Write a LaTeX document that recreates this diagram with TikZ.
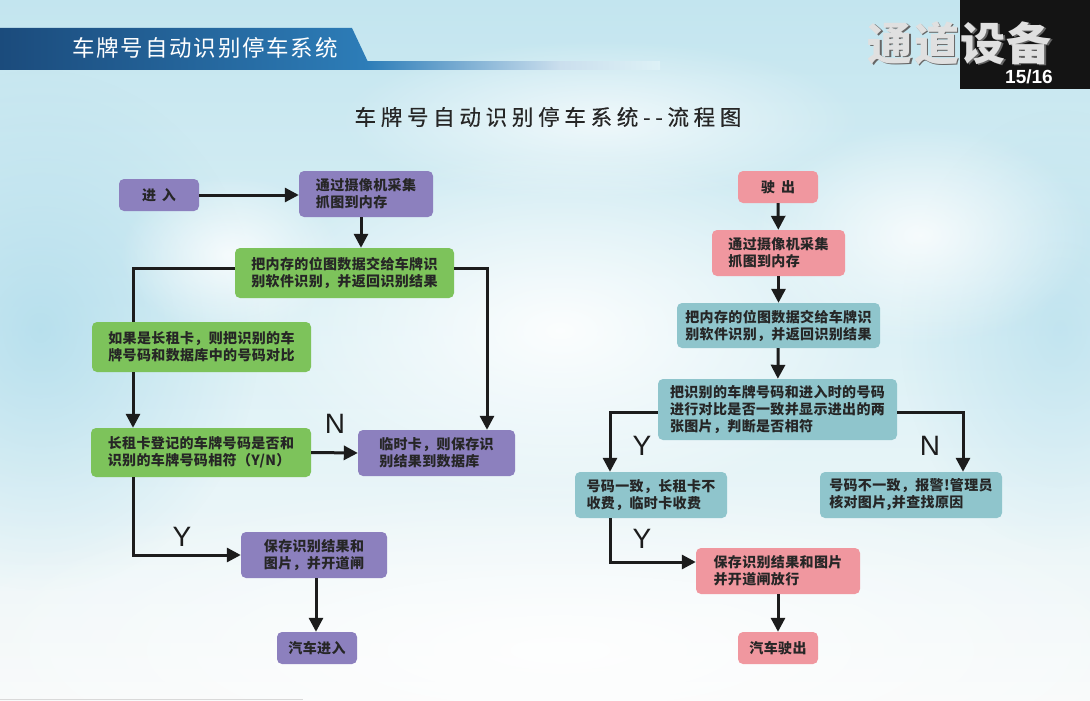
\documentclass[tikz,border=0pt]{standalone}
\usepackage{fontspec}
\setmainfont{Noto Sans CJK SC}
\newfontfamily\bxf{Noto Sans CJK SC}[LetterSpace=2.5]
\newfontfamily\ttlf{Noto Sans CJK SC}[LetterSpace=22,FakeBold=0.4]
\newfontfamily\bnf{Noto Sans CJK SC}[LetterSpace=8]
\newfontfamily\logof{Noto Sans CJK SC}[LetterSpace=3]
\newfontfamily\latf{Liberation Sans}
\usetikzlibrary{arrows.meta,fadings,shadings}
\definecolor{cpur}{HTML}{8C80BE}
\definecolor{cgrn}{HTML}{7DC35B}
\definecolor{cpnk}{HTML}{F0979F}
\definecolor{ctea}{HTML}{8FC5CC}
\definecolor{ctxt}{HTML}{262626}
\definecolor{carr}{HTML}{1C1C1C}
\definecolor{bgtop}{HTML}{C3E5EF}
\definecolor{bgmid}{HTML}{DDF1F6}
\definecolor{bgbot}{HTML}{F8FAFA}
\definecolor{bgcy}{HTML}{A9D9EA}
\definecolor{bandL}{HTML}{1B4B7C}
\definecolor{bandR}{HTML}{2D7DB8}
\tikzfading[name=softglow, inner color=transparent!0, outer color=transparent!100]
\begin{document}
\begin{tikzpicture}[x=1pt,y=-1pt,
  box/.style={rounded corners=5pt, inner sep=0pt, align=left, text=ctxt,
    font=\bxf\bfseries\fontsize{14}{17}\selectfont},
  pbox/.style={box, fill=cpur},
  gbox/.style={box, fill=cgrn},
  kbox/.style={box, fill=cpnk},
  tbox/.style={box, fill=ctea},
  ln/.style={line width=3pt, draw=carr},
  arr/.style={ln, -{Triangle[length=14pt,width=14pt]}},
  glow/.style={path fading=softglow},
  yn/.style={font=\latf\fontsize{28}{28}\selectfont, text=carr, inner sep=0pt}]
\useasboundingbox (0,0) rectangle (1090,701);
% background
\shade[top color=bgtop, bottom color=bgbot, middle color=bgmid] (0,0) rectangle (1090,701);
\fill[bgcy, glow, opacity=0.7] (40,330) ellipse (220 and 260);
\fill[bgcy, glow, opacity=0.5] (1060,330) ellipse (160 and 220);
\fill[white, glow, opacity=0.9] (560,330) ellipse (320 and 180);
\fill[white, glow, opacity=0.8] (230,255) ellipse (110 and 80);
\fill[white, glow, opacity=0.8] (920,235) ellipse (170 and 110);
\fill[white, glow, opacity=0.9] (560,650) ellipse (650 and 170);
\fill[white, glow, opacity=0.7] (600,120) ellipse (260 and 80);
\draw[line width=1.5pt, draw=black!15] (0,699.5) -- (303,699.5);
% header band
\shade[left color=bandL, right color=bandR] (0,28) -- (352,28) -- (368,62) -- (368,70) -- (0,70) -- cycle;
\shade[left color=bandR, right color=bandR!25!white] (367,62) rectangle (560,70);
\shade[left color=bandR!25!white, right color=bgmid] (559.5,62) rectangle (660,70);
\node[font=\bnf\fontsize{22.5}{22.5}\selectfont, text=white, inner sep=0pt] (band) at (205,48) {车牌号自动识别停车系统};
% logo
\fill[black!92] (960,0) rectangle (1090,89);
\node[font=\logof\bfseries\fontsize{45}{45}\selectfont, text=black!60, inner sep=0pt] (logosh) at (961.5,44.5) {通道设备};
\node[font=\logof\bfseries\fontsize{45}{45}\selectfont, text=black!12, inner sep=0pt] (logo) at (960,43) {通道设备};
\node[font=\latf\bfseries\fontsize{19}{19}\selectfont, text=white, inner sep=0pt] (page) at (1029,77) {15/16};
% title
\node[font=\ttlf\fontsize{21.5}{21.5}\selectfont, text=ctxt, inner sep=0pt] (title) at (548,117) {车牌号自动识别停车系统--流程图};
% helper coordinates
\coordinate (x133) at (133,0);
\coordinate (x361) at (361,0);
\coordinate (x487) at (487,0);
\coordinate (x316) at (316,0);
\coordinate (x610) at (610,0);
\coordinate (x963) at (963,0);
% left flow
\node[pbox, minimum width=80pt, minimum height=32pt] (in) at (159,195) {进\hspace{6pt}入};
\node[pbox, minimum width=134pt, minimum height=46pt] (cap1) at (366,194) {通过摄像机采集\\抓图到内存};
\node[gbox, minimum width=219pt, minimum height=50pt] (rec1) at (344.5,273) {把内存的位图数据交给车牌识\\别软件识别，并返回识别结果};
\node[gbox, minimum width=219pt, minimum height=50pt] (cmp1) at (201.5,347) {如果是长租卡，则把识别的车\\牌号码和数据库中的号码对比};
\node[gbox, minimum width=220pt, minimum height=49pt] (chk1) at (201,452.5) {长租卡登记的车牌号码是否和\\识别的车牌号码相符（Y/N）};
\node[pbox, minimum width=157pt, minimum height=46pt] (tmp1) at (436.5,453) {临时卡，则保存识\\别结果到数据库};
\node[pbox, minimum width=146pt, minimum height=46pt] (sav1) at (314,555) {保存识别结果和\\图片，并开道闸};
\node[pbox, minimum width=80pt, minimum height=32pt] (car1) at (317,648) {汽车进入};
\draw[arr] (in) -- (cap1.west |- in);
\draw[arr] (cap1.south -| x361) -- (rec1.north -| x361);
\draw[ln] ([yshift=5pt]rec1.west) -| (x133 |- cmp1.north);
\draw[arr] ([yshift=5pt]rec1.east) -| (x487 |- tmp1.north);
\draw[arr] (cmp1.south -| x133) -- (chk1.north -| x133);
\draw[arr] (chk1.east) -- (tmp1.west);
\draw[arr] (chk1.south -| x133) |- (sav1.west);
\draw[arr] (sav1.south -| x316) -- (car1.north -| x316);
\node[yn] (n1) at (335,424) {N};
\node[yn] (y1) at (182,537) {Y};
% right flow
\node[kbox, minimum width=80pt, minimum height=32pt] (out) at (778,187) {驶\hspace{6pt}出};
\node[kbox, minimum width=133pt, minimum height=46pt] (cap2) at (778.5,253) {通过摄像机采集\\抓图到内存};
\node[tbox, minimum width=203pt, minimum height=45pt] (rec2) at (778.5,325.5) {把内存的位图数据交给车牌识\\别软件识别，并返回识别结果};
\node[tbox, minimum width=239pt, minimum height=61pt] (cmp2) at (777.5,409.5) {把识别的车牌号码和进入时的号码\\进行对比是否一致并显示进出的两\\张图片，判断是否相符};
\node[tbox, minimum width=152pt, minimum height=46pt] (ok2) at (651,495) {号码一致，长租卡不\\收费，临时卡收费};
\node[tbox, minimum width=182pt, minimum height=46pt] (bad2) at (911,495) {号码不一致，报警!管理员\\核对图片,并查找原因};
\node[kbox, minimum width=164pt, minimum height=46pt] (sav2) at (778,571) {保存识别结果和图片\\并开道闸放行};
\node[kbox, minimum width=80pt, minimum height=32pt] (car2) at (778,648) {汽车驶出};
\draw[arr] (out) -- (cap2);
\draw[arr] (cap2) -- (rec2);
\draw[arr] (rec2) -- (cmp2);
\draw[arr] ([yshift=-3pt]cmp2.west) -| (x610 |- ok2.north);
\draw[arr] ([yshift=-3pt]cmp2.east) -| (x963 |- bad2.north);
\draw[arr] (ok2.south -| x610) |- ([yshift=9pt]sav2.west);
\draw[arr] (sav2) -- (car2);
\node[yn] (y2) at (642,446) {Y};
\node[yn] (n2) at (930,446) {N};
\node[yn] (y3) at (642,539) {Y};
\end{tikzpicture}
\end{document}
